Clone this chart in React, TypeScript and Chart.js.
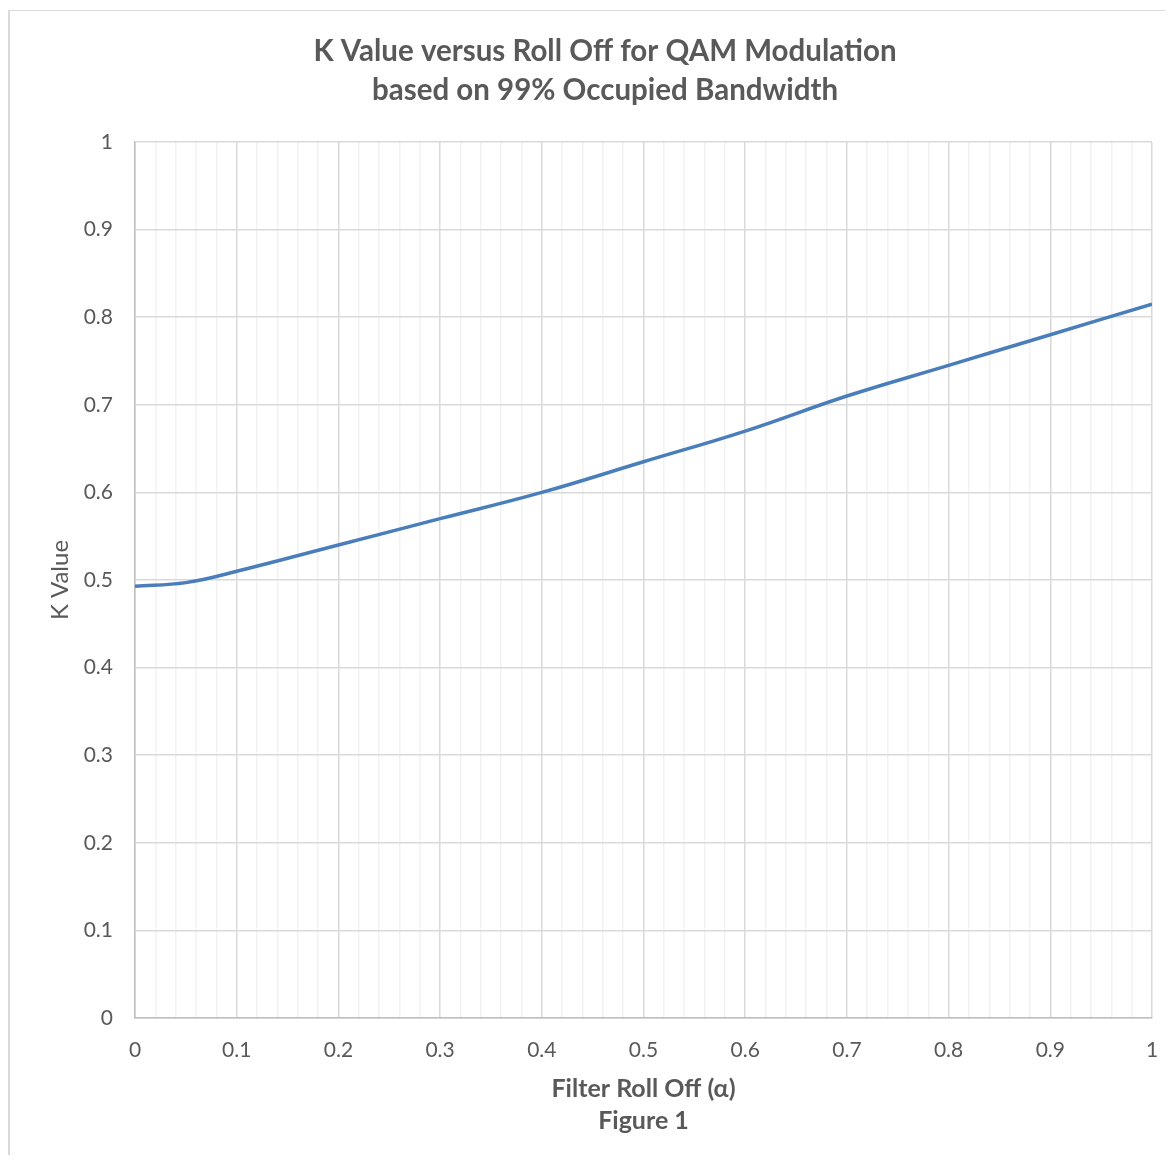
import React, { useEffect, useRef } from "react";
import { Chart, registerables } from "chart.js";

Chart.register(...registerables);

const rollOff = [0, 0.05, 0.1, 0.2, 0.3, 0.4, 0.5, 0.6, 0.7, 0.8, 0.9, 1.0];
const kValue = [0.493, 0.497, 0.51, 0.54, 0.57, 0.6, 0.635, 0.67, 0.71, 0.745, 0.78, 0.815];

const titleLines = ["K Value versus Roll Off for QAM Modulation", "based on 99% Occupied Bandwidth"];
const xTitleLines = ["Filter Roll Off (\u03b1)", "Figure 1"];
const yTitle = "K Value";

const FONT = "Lato, 'Open Sans', sans-serif";
const TEXT = "#595959";

export default function App() {
  const ref = useRef<HTMLCanvasElement | null>(null);

  useEffect(() => {
    if (!ref.current) return;
    const chart = new Chart(ref.current, {
      type: "line",
      data: {
        datasets: [
          {
            data: rollOff.map((x, i) => ({ x, y: kValue[i] })),
            borderColor: "#4a7ebb",
            borderWidth: 3.5,
            pointRadius: 0,
            tension: 0.4,
            fill: false,
          },
        ],
      },
      options: {
        animation: false,
        responsive: true,
        maintainAspectRatio: false,
        layout: { padding: { left: 48, right: 49, top: 0, bottom: 23 } },
        plugins: {
          legend: { display: false },
          tooltip: { enabled: false },
          title: {
            display: true,
            text: titleLines,
            color: TEXT,
            font: { family: FONT, size: 29.5, weight: "bold", lineHeight: 39 / 29.5 },
            padding: { top: 20.5, bottom: 32.5 },
          },
        },
        scales: {
          x: {
            type: "linear",
            min: 0,
            max: 1,
            afterFit: (s: any) => {
              s.height = 120;
            },
            afterBuildTicks: (s: any) => {
              const t = [];
              for (let i = 0; i <= 50; i++) t.push({ value: i / 50 });
              s.ticks = t;
            },
            ticks: {
              autoSkip: false,
              maxRotation: 0,
              padding: 20,
              color: TEXT,
              font: { family: FONT, size: 21 },
              callback: (v: any) => {
                const n = Math.round(Number(v) * 50);
                return n % 5 === 0 ? String(Number((n / 50).toFixed(1))) : "";
              },
            },
            grid: {
              drawTicks: false,
              lineWidth: 1.5,
              color: (c: any) => {
                const n = Math.round(Number(c.tick?.value ?? 0) * 50);
                return n % 5 === 0 ? "#d9d9d9" : "#f2f2f2";
              },
            },
            border: { color: "#bfbfbf", width: 1.5 },
            title: {
              display: true,
              text: xTitleLines,
              color: TEXT,
              font: { family: FONT, size: 25, weight: "bold", lineHeight: 32 / 25 },
              padding: { top: 0, bottom: 1 },
            },
          },
          y: {
            type: "linear",
            min: 0,
            max: 1,
            afterFit: (s: any) => {
              s.width = 77;
            },
            ticks: {
              stepSize: 0.1,
              padding: 22,
              color: TEXT,
              font: { family: FONT, size: 21 },
              callback: (v: any) => String(Number(Number(v).toFixed(1))),
            },
            grid: { drawTicks: false, lineWidth: 1.5, color: "#d9d9d9" },
            border: { color: "#bfbfbf", width: 1.5 },
            title: {
              display: true,
              text: yTitle,
              color: TEXT,
              font: { family: FONT, size: 24, lineHeight: 1.2 },
              padding: { top: -12.4, bottom: 0 },
            },
          },
        },
      },
    });
    return () => chart.destroy();
  }, []);

  return (
    <div style={{ width: 1157, height: 1147, overflow: "hidden" }}>
      <div
        style={{
          marginTop: 2,
          borderTop: "1px solid #d9d9d9",
          borderLeft: "2px solid #d9d9d9",
          width: 1193,
          height: 1151,
          boxSizing: "border-box",
        }}
      >
        <div style={{ position: "relative", width: 1191, height: 1150 }}>
          <canvas ref={ref} />
        </div>
      </div>
    </div>
  );
}
